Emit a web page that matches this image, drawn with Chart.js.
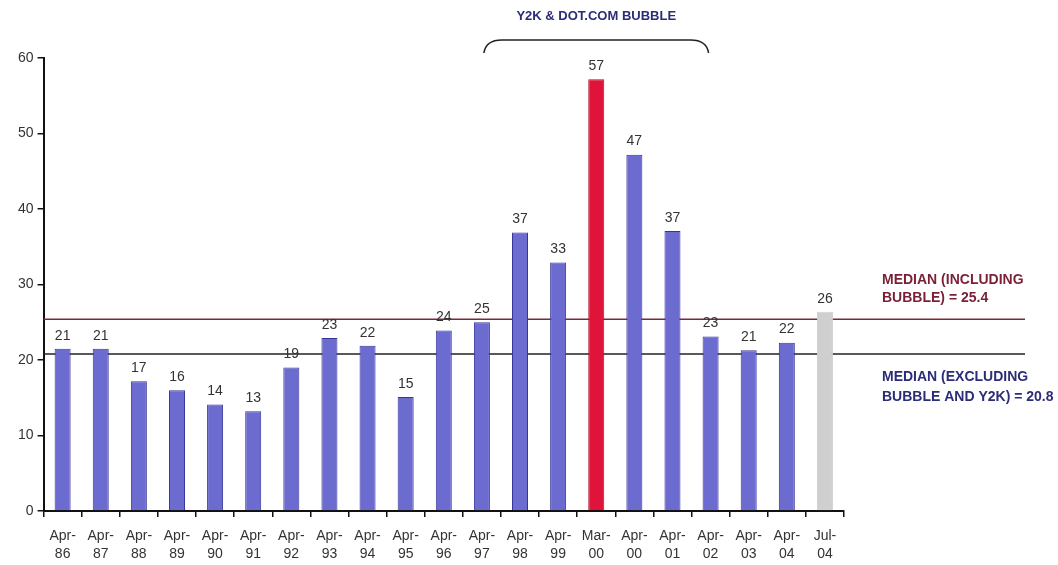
<!DOCTYPE html>
<html>
<head>
<meta charset="utf-8">
<script src="https://cdn.jsdelivr.net/npm/chart.js@4"></script>
<style>
  html, body { margin: 0; padding: 0; background: #fff; }
  #wrap { width: 1058px; height: 565px; }
</style>
</head>
<body>
<div id="wrap"><canvas id="pe"></canvas></div>
<script>
var periods = ['Apr-86','Apr-87','Apr-88','Apr-89','Apr-90','Apr-91','Apr-92','Apr-93','Apr-94','Apr-95',
  'Apr-96','Apr-97','Apr-98','Apr-99','Mar-00','Apr-00','Apr-01','Apr-02','Apr-03','Apr-04','Jul-04']
var ratios = [21.5, 21.5, 17.2, 16.0, 14.1, 13.2, 19.0, 22.9, 21.9, 15.1,
  23.9, 25.0, 36.9, 32.9, 57.2, 47.2, 37.1, 23.1, 21.3, 22.3, 26.4]
var ratioLabels = ['21','21','17','16','14','13','19','23','22','15',
  '24','25','37','33','57','47','37','23','21','22','26']
var yTicks = [0, 10, 20, 30, 40, 50, 60]
var medianIncl = 25.4
var medianExcl = 20.8

var fills = periods.map(function (p, i) {
  if (p === 'Mar-00') return '#e0143a'
  if (i === periods.length - 1) return '#cfcfcf'
  return '#6b6bd0'
})
var borders = periods.map(function (p, i) {
  if (p === 'Mar-00') return '#b0102c'
  if (i === periods.length - 1) return '#cfcfcf'
  return '#34349a'
})

var FONT = '"Liberation Sans", Arial, sans-serif'

var extras = {
  id: 'extras',
  beforeDatasetsDraw: function (chart) {
    var c = chart.ctx, y = chart.scales.y, a = chart.chartArea
    c.save()
    c.lineWidth = 1.5
    c.strokeStyle = '#7a2a35'
    c.beginPath()
    c.moveTo(a.left, y.getPixelForValue(medianIncl))
    c.lineTo(1025, y.getPixelForValue(medianIncl))
    c.stroke()
    c.strokeStyle = '#222'
    c.beginPath()
    c.moveTo(a.left, y.getPixelForValue(medianExcl))
    c.lineTo(1025, y.getPixelForValue(medianExcl))
    c.stroke()
    c.restore()
  },
  afterDatasetsDraw: function (chart) {
    var c = chart.ctx, x = chart.scales.x, y = chart.scales.y
    var meta = chart.getDatasetMeta(0)
    c.save()
    c.font = '14px ' + FONT
    c.fillStyle = '#333'
    c.textAlign = 'center'
    c.textBaseline = 'bottom'
    meta.data.forEach(function (bar, i) {
      c.fillText(ratioLabels[i], bar.x, bar.y - 6)
    })

    // bracket over the bubble years
    var x0 = x.getPixelForValue(11), x1 = x.getPixelForValue(17)
    c.strokeStyle = '#222'
    c.lineWidth = 1.5
    c.beginPath()
    c.moveTo(x0 + 2, 53)
    c.quadraticCurveTo(x0 + 4, 40, x0 + 20, 40)
    c.lineTo(x1 - 20, 40)
    c.quadraticCurveTo(x1 - 4, 40, x1 - 2, 53)
    c.stroke()

    c.font = 'bold 13px ' + FONT
    c.fillStyle = '#2b2d78'
    c.textBaseline = 'middle'
    c.fillText('Y2K & DOT.COM BUBBLE', (x0 + x1) / 2, 16)

    c.font = 'bold 14px ' + FONT
    c.textAlign = 'left'
    c.fillStyle = '#7a1f35'
    c.fillText('MEDIAN (INCLUDING', 882, 280)
    c.fillText('BUBBLE) = 25.4', 882, 298)
    c.fillStyle = '#2b2d78'
    c.fillText('MEDIAN (EXCLUDING', 882, 377)
    c.fillText('BUBBLE AND Y2K) = 20.8', 882, 397)
    c.restore()
  }
}

new Chart(document.getElementById('pe'), {
  type: 'bar',
  data: {
    labels: periods.map(function (p) { return p.split('-') }).map(function (s) { return [s[0] + '-', s[1]] }),
    datasets: [{
      data: ratios,
      backgroundColor: fills,
      borderColor: borders,
      borderWidth: 1,
      barPercentage: 0.42,
      categoryPercentage: 1
    }]
  },
  options: {
    responsive: true,
    maintainAspectRatio: false,
    animation: false,
    layout: { padding: { top: 58, right: 214, left: 14, bottom: 0 } },
    plugins: { legend: { display: false }, tooltip: { enabled: false } },
    scales: {
      x: {
        afterFit: function (s) { s.height = 54 },
        grid: { drawOnChartArea: false, drawTicks: true, tickLength: 6, color: '#111', lineWidth: 1.5, offset: true },
        border: { color: '#111', width: 2 },
        ticks: { color: '#333', font: { family: FONT, size: 14, lineHeight: 1.3 }, maxRotation: 0, autoSkip: false, padding: 10 }
      },
      y: {
        min: 0,
        max: 60,
        afterBuildTicks: function (s) { s.ticks = yTicks.map(function (v) { return { value: v } }) },
        grid: { drawOnChartArea: false, drawTicks: true, tickLength: 6, color: '#111', lineWidth: 1.5 },
        border: { color: '#111', width: 2 },
        ticks: { color: '#333', font: { family: FONT, size: 14 }, padding: 4 }
      }
    }
  },
  plugins: [extras]
})
</script>
</body>
</html>
